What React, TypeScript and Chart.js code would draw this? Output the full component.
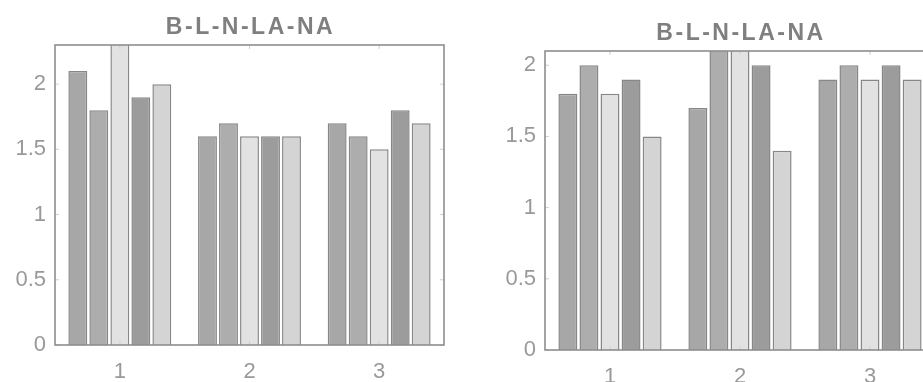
import React, { useEffect, useRef } from "react";
import { Chart, registerables } from "chart.js";
Chart.register(...registerables);

const categories = ["1", "2", "3"];
const seriesNames = ["B", "L", "N", "LA", "NA"];
const seriesColors = ["#a7a7a7", "#adadad", "#e2e2e2", "#9c9c9c", "#d4d4d4"];

// left panel
const leftB = [2.1, 1.6, 1.7];
const leftL = [1.8, 1.7, 1.6];
const leftN = [2.4, 1.6, 1.5];
const leftLA = [1.9, 1.6, 1.8];
const leftNA = [2.0, 1.6, 1.7];

// right panel
const rightB = [1.8, 1.7, 1.9];
const rightL = [2.0, 2.2, 2.0];
const rightN = [1.8, 2.2, 1.9];
const rightLA = [1.9, 2.0, 2.0];
const rightNA = [1.5, 1.4, 1.9];

const titleText = "B-L-N-LA-NA";
const FONT = "'Liberation Sans', Arial, Helvetica, sans-serif";

const framePlugin = {
  id: "frameTitle",
  afterDatasetsDraw(chart: any, _args: any, opts: any) {
    const ctx = chart.ctx;
    const { left, right, top, bottom } = chart.chartArea;
    ctx.save();
    // inner tick marks
    ctx.strokeStyle = "#cfcfcf";
    ctx.lineWidth = 1;
    const ys = chart.scales.y;
    ys.ticks.forEach((t: any) => {
      const py = ys.getPixelForValue(t.value);
      ctx.beginPath();
      ctx.moveTo(left, py);
      ctx.lineTo(left + 4, py);
      ctx.moveTo(right, py);
      ctx.lineTo(right - 4, py);
      ctx.stroke();
    });
    const xs = chart.scales.x;
    xs.ticks.forEach((_t: any, i: number) => {
      const px = xs.getPixelForTick(i);
      ctx.beginPath();
      ctx.moveTo(px, bottom);
      ctx.lineTo(px, bottom - 4);
      ctx.moveTo(px, top);
      ctx.lineTo(px, top + 4);
      ctx.stroke();
    });
    // frame
    ctx.strokeStyle = "#8e8e8e";
    ctx.lineWidth = 1.6;
    ctx.strokeRect(left, top, right - left, bottom - top);
    // title
    ctx.fillStyle = "#7f7f7f";
    ctx.font = `bold 23px ${FONT}`;
    (ctx as any).letterSpacing = "2.5px";
    ctx.textAlign = "center";
    ctx.textBaseline = "alphabetic";
    ctx.fillText(opts.text, (left + right) / 2 + 1, opts.baseline);
    ctx.restore();
  },
};

type PanelProps = {
  series: number[][];
  yMax: number;
  width: number;
  left: number;
  padTop: number;
  padRight: number;
  yWidth: number;
  xHeight: number;
  titleBaseline: number;
};

function Panel(p: PanelProps) {
  const ref = useRef<HTMLCanvasElement | null>(null);
  useEffect(() => {
    if (!ref.current) return;
    const chart = new Chart(ref.current, {
      type: "bar",
      data: {
        labels: categories,
        datasets: p.series.map((d, i) => ({
          label: seriesNames[i],
          data: d,
          backgroundColor: seriesColors[i],
          borderColor: "#878787",
          borderWidth: 1.5,
          categoryPercentage: 0.81,
          barPercentage: 0.9,
          clip: 0,
        })),
      },
      options: {
        animation: false,
        responsive: false,
        devicePixelRatio: 1,
        layout: { padding: { top: p.padTop, right: p.padRight, left: 0, bottom: 0 } },
        plugins: {
          legend: { display: false },
          tooltip: { enabled: false },
          title: { display: false },
          frameTitle: { text: titleText, baseline: p.titleBaseline },
        } as any,
        scales: {
          x: {
            grid: { display: false, drawTicks: false },
            border: { display: false },
            ticks: { color: "#999999", font: { family: FONT, size: 22 }, padding: 14 },
            afterFit: (s: any) => {
              s.height = p.xHeight;
            },
          },
          y: {
            min: 0,
            max: p.yMax,
            grid: { display: false, drawTicks: false },
            border: { display: false },
            ticks: {
              stepSize: 0.5,
              includeBounds: false,
              color: "#999999",
              font: { family: FONT, size: 22 },
              padding: 9,
              callback: (v: any) => String(v),
            },
            afterFit: (s: any) => {
              s.width = p.yWidth;
            },
          },
        },
      },
      plugins: [framePlugin],
    });
    return () => chart.destroy();
  }, []);
  return (
    <canvas
      ref={ref}
      width={p.width}
      height={382}
      style={{ position: "absolute", left: p.left, top: 0, width: p.width, height: 382 }}
    />
  );
}

export default function App() {
  return (
    <div
      style={{
        position: "fixed",
        left: 0,
        top: 0,
        width: 923,
        height: 382,
        overflow: "hidden",
        background: "#ffffff",
      }}
    >
      <Panel
        series={[leftB, leftL, leftN, leftLA, leftNA]}
        yMax={2.3}
        width={460}
        left={0}
        padTop={45}
        padRight={16}
        yWidth={55}
        xHeight={37}
        titleBaseline={34}
      />
      <Panel
        series={[rightB, rightL, rightN, rightLA, rightNA]}
        yMax={2.1}
        width={520}
        left={460}
        padTop={51}
        padRight={45}
        yWidth={85}
        xHeight={32}
        titleBaseline={40}
      />
    </div>
  );
}
